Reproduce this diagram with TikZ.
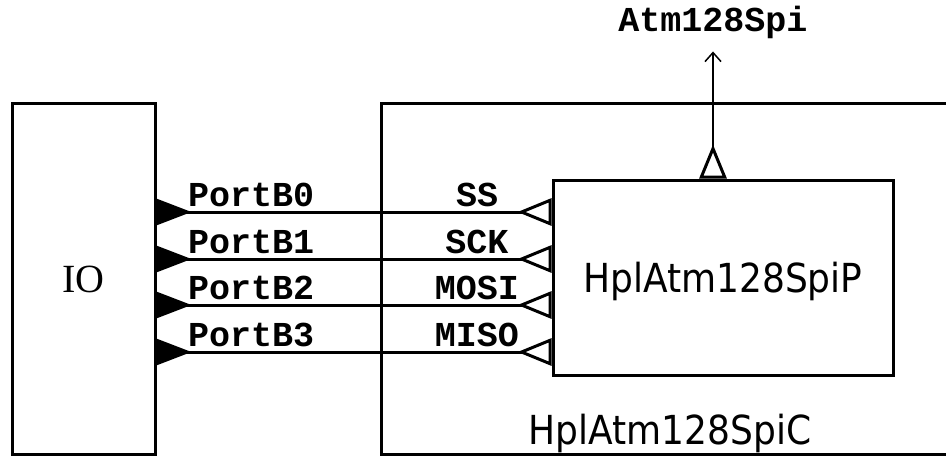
\documentclass[tikz,border=0pt]{standalone}
\usepackage{fontspec}
\setmainfont{DejaVu Sans Condensed}
\setmonofont{Liberation Mono}
\newfontfamily\ioserif{Liberation Serif}
\usetikzlibrary{arrows.meta,positioning}
\begin{document}
\begin{tikzpicture}[x=1pt,y=-1pt,>=Latex]
  \tikzstyle{box}=[draw,line width=3pt,inner sep=0pt,font=\fontsize{40}{48}\selectfont]
  \tikzstyle{sig}=[inner sep=0pt,font=\ttfamily\bfseries\fontsize{35}{40}\selectfont]
  \tikzstyle{wire}=[line width=3pt,{Triangle[reversed,length=35pt,width=26pt]}-{Triangle[open,reversed,length=34pt,width=27pt,line width=3pt]}]
  \useasboundingbox (0,0) rectangle (946,456);
  \clip (0,0) rectangle (946,456);
  \node[box,minimum width=143pt,minimum height=351pt,font=\ioserif\fontsize{40}{48}\selectfont] (io) at (83.5,279) {IO};
  \node[box,minimum width=578pt,minimum height=351pt] (spic) at (670,279) {};
  \node[box,anchor=base,draw=none,yshift=12pt] (spiclbl) at (spic.south) {HplAtm128SpiC};
  \node[box,minimum width=340pt,minimum height=195pt,text depth=0pt] (spip) at (723,277.5) {HplAtm128SpiP};
  \foreach \y/\port/\pin in {212/PortB0/SS,259/PortB1/SCK,305/PortB2/MOSI,352/PortB3/MISO}{
    \node[sig,anchor=base west] (\port) at (188,\y-6) {\port};
    \node[sig,anchor=base] (\pin) at (477,\y-6) {\pin};
    \draw[wire] (io.east |- 0,\y) -- (spip.west |- 0,\y);
  }
  \node[sig,anchor=base] (iface) at (713,31) {Atm128Spi};
  \draw[line width=1.5pt,shorten >=13pt,{Triangle[open,reversed,length=34pt,width=27pt,line width=3pt]}-{Straight Barb[length=9pt,width=16pt]}] ([xshift=-10pt]spip.north) -- (iface.south);
\end{tikzpicture}
\end{document}
